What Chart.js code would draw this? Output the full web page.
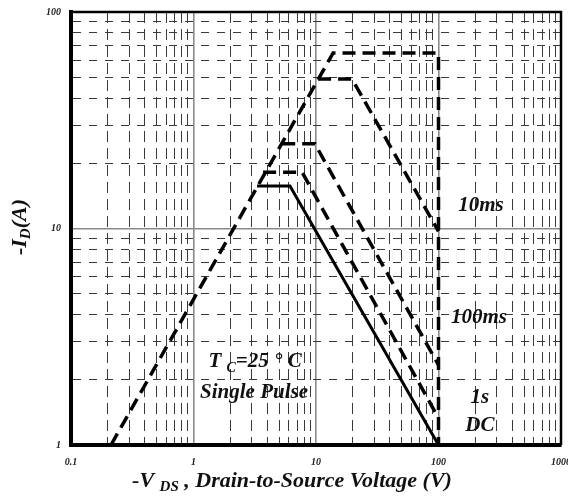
<!DOCTYPE html>
<html>
<head>
<meta charset="utf-8">
<script src="https://cdn.jsdelivr.net/npm/chart.js@4"></script>
<style>
  html, body { margin: 0; padding: 0; background: #fff; }
  #wrap { width: 568px; height: 501px; }
</style>
</head>
<body>
<div id="wrap"><canvas id="soaChart"></canvas></div>
<script>
// tick labels
const xTickLabels = ['0.1', '1', '10', '100', '1000'];
const yTickLabels = ['1', '10', '100'];

// SOA boundaries (volts / amps)
const outerVolts = [0.212, 13.8, 100, 100];
const outerAmps = [1, 64.7, 64.7, 1];
const ms10Volts = [10.4, 19.7, 100];
const ms10Amps = [49, 49, 9.7];
const ms100Volts = [5.3, 9.8, 100];
const ms100Amps = [24.6, 24.6, 2.34];
const s1Volts = [3.7, 7.7, 100];
const s1Amps = [18.2, 18.2, 1.33];
const dcVolts = [3.3, 6.13, 100];
const dcAmps = [15.7, 15.7, 1];

// curve labels
const noteLabels = ['10ms', '100ms', '1s', 'DC'];
const noteVolts = [222, 214, 218, 218];
const noteAmps = [12.8, 3.86, 1.65, 1.224];

const serif = '"Liberation Serif", "DejaVu Serif", serif';

function toPoints(vs, as) {
    return vs.map((v, i) => ({ x: v, y: as[i] }));
}

function isDecade(v) {
    const l = Math.log10(v);
    return Math.abs(l - Math.round(l)) < 1e-9;
}

// grid lines at 1..9 x each decade
function gridValues(minExp, maxExp) {
    const vals = [];
    for (let e = minExp; e < maxExp; e++) {
        for (let m = 1; m < 10; m++) vals.push(m * Math.pow(10, e));
    }
    vals.push(Math.pow(10, maxExp));
    return vals;
}

function labelFor(list, value) {
    return list.find((l) => Math.abs(parseFloat(l) - value) < 1e-9) || '';
}

// text with subscripts, centred on (x, y)
function richText(ctx, parts, x, y, size) {
    let w = 0;
    parts.forEach((p) => {
        ctx.font = `italic bold ${p.sub ? Math.round(size * 0.68) : size}px ${serif}`;
        p.w = ctx.measureText(p.t).width;
        w += p.w;
    });
    let cx = x - w / 2;
    ctx.textAlign = 'left';
    ctx.textBaseline = 'middle';
    parts.forEach((p) => {
        ctx.font = `italic bold ${p.sub ? Math.round(size * 0.68) : size}px ${serif}`;
        ctx.fillText(p.t, cx, y + (p.sub ? size * 0.3 : 0));
        cx += p.w;
    });
}

const decorPlugin = {
    id: 'decor',
    afterDraw(chart) {
        const { ctx, chartArea: a, scales } = chart;
        ctx.save();
        // top and right frame
        ctx.strokeStyle = '#000';
        ctx.lineWidth = 2.5;
        ctx.beginPath();
        ctx.moveTo(a.left, a.top);
        ctx.lineTo(a.right, a.top);
        ctx.lineTo(a.right, a.bottom);
        ctx.stroke();

        ctx.fillStyle = '#111';
        noteLabels.forEach((t, i) => {
            richText(ctx, [{ t }], scales.x.getPixelForValue(noteVolts[i]), scales.y.getPixelForValue(noteAmps[i]), 21);
        });
        richText(ctx, [{ t: 'T ' }, { t: 'C', sub: true }, { t: '=25 \u00b0 C' }],
            scales.x.getPixelForValue(3.18), scales.y.getPixelForValue(2.42), 21);
        richText(ctx, [{ t: 'Single Pulse' }],
            scales.x.getPixelForValue(3.12), scales.y.getPixelForValue(1.74), 21);

        // axis titles
        richText(ctx, [{ t: '-V ' }, { t: 'DS', sub: true }, { t: ' , Drain-to-Source Voltage (V)' }],
            292, 481, 22);
        ctx.translate(20, 227);
        ctx.rotate(-Math.PI / 2);
        richText(ctx, [{ t: '-I' }, { t: 'D', sub: true }, { t: '(A)' }], 0, 0, 22);
        ctx.restore();
    },
};

const tickFont = { family: serif, size: 10, style: 'italic', weight: 'bold' };

function boundary(vs, as, dashed, width) {
    return {
        data: toPoints(vs, as),
        borderColor: '#000',
        borderWidth: width,
        borderDash: dashed ? [13, 7] : [],
        pointRadius: 0,
        tension: 0,
        fill: false,
    };
}

new Chart(document.getElementById('soaChart'), {
    type: 'line',
    data: {
        datasets: [
            boundary(outerVolts, outerAmps, true, 3.5),
            boundary(ms10Volts, ms10Amps, true, 3.5),
            boundary(ms100Volts, ms100Amps, true, 3.5),
            boundary(s1Volts, s1Amps, true, 3.5),
            boundary(dcVolts, dcAmps, false, 3),
        ],
    },
    options: {
        responsive: true,
        maintainAspectRatio: false,
        animation: false,
        layout: { padding: { top: 12, right: 7, left: 0, bottom: 0 } },
        plugins: { legend: { display: false }, tooltip: { enabled: false } },
        scales: {
            x: {
                type: 'logarithmic',
                min: 0.1,
                max: 1000,
                afterBuildTicks: (s) => { s.ticks = gridValues(-1, 3).map((v) => ({ value: v, major: isDecade(v) })); },
                afterFit: (s) => { s.height = 56; s.paddingLeft = 0; s.paddingRight = 0; },
                grid: {
                    drawTicks: false,
                    color: (c) => (c.tick && isDecade(c.tick.value) ? '#8a8a8a' : '#3a3a3a'),
                    lineWidth: (c) => (c.tick && isDecade(c.tick.value) ? 1.6 : 1),
                },
                border: {
                    color: '#000',
                    width: 4,
                    dash: (c) => (c.tick && !isDecade(c.tick.value) ? [11, 6] : []),
                },
                ticks: {
                    autoSkip: false,
                    maxRotation: 0,
                    padding: 11,
                    color: '#222',
                    font: tickFont,
                    callback: (v) => labelFor(xTickLabels, v),
                },
            },
            y: {
                type: 'logarithmic',
                min: 1,
                max: 100,
                afterBuildTicks: (s) => { s.ticks = gridValues(0, 2).map((v) => ({ value: v, major: isDecade(v) })); },
                afterFit: (s) => { s.width = 71; s.paddingTop = 0; s.paddingBottom = 0; },
                grid: {
                    drawTicks: false,
                    color: (c) => (c.tick && isDecade(c.tick.value) ? '#8a8a8a' : '#3a3a3a'),
                    lineWidth: (c) => (c.tick && isDecade(c.tick.value) ? 1.6 : 1),
                },
                border: {
                    color: '#000',
                    width: 4,
                    dash: (c) => (c.tick && !isDecade(c.tick.value) ? [8, 8] : []),
                },
                ticks: {
                    autoSkip: false,
                    padding: 10,
                    color: '#222',
                    font: tickFont,
                    callback: (v) => labelFor(yTickLabels, v),
                },
            },
        },
    },
    plugins: [decorPlugin],
});
</script>
</body>
</html>
